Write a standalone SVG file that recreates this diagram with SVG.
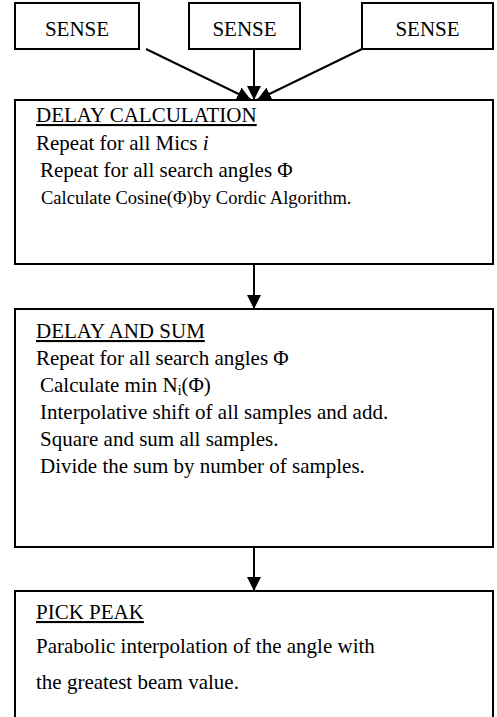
<svg xmlns="http://www.w3.org/2000/svg" width="497" height="717" viewBox="0 0 497 717">
  <defs>
    <marker id="arrow" viewBox="0 0 10 10" refX="10" refY="5" markerWidth="7" markerHeight="7" markerUnits="strokeWidth" orient="auto">
      <path d="M0,0 L10,5 L0,10 Z" fill="#000"/>
    </marker>
  </defs>
  <style>
    .box { fill: #fff; stroke: #000; stroke-width: 2; }
    .t { font-family: "Liberation Serif", "Times New Roman", serif; font-size: 21px; fill: #000; }
    .sm { font-size: 18.5px; }
    .sub { font-size: 14px; }
    .c { text-anchor: middle; }
    .u { text-decoration: underline; }
    .edge { stroke: #000; stroke-width: 2; fill: none; marker-end: url(#arrow); }
  </style>
  <rect width="497" height="717" fill="#fff"/>

  <g id="sense1">
    <rect class="box" x="15" y="3" width="124" height="46"/>
    <text class="t c" x="77" y="36">SENSE</text>
  </g>
  <g id="sense2">
    <rect class="box" x="189" y="3" width="111" height="46"/>
    <text class="t c" x="244.5" y="36">SENSE</text>
  </g>
  <g id="sense3">
    <rect class="box" x="362" y="3" width="131" height="46"/>
    <text class="t c" x="427.5" y="36">SENSE</text>
  </g>

  <g id="delay-calculation">
    <rect class="box" x="15" y="100" width="478" height="164"/>
    <text class="t u" x="36" y="122">DELAY CALCULATION</text>
    <text class="t" x="36" y="150">Repeat for all Mics <tspan font-style="italic">i</tspan></text>
    <text class="t" x="40" y="177">Repeat for all search angles Φ</text>
    <text class="t sm" x="41" y="204">Calculate Cosine(Φ)by Cordic Algorithm.</text>
  </g>

  <g id="delay-and-sum">
    <rect class="box" x="15" y="309" width="478" height="238"/>
    <text class="t u" x="36" y="338">DELAY AND SUM</text>
    <text class="t" x="36" y="365">Repeat for all search angles Φ</text>
    <text class="t" x="40" y="392">Calculate min N<tspan class="sub" dy="3">i</tspan><tspan dy="-3">(Φ)</tspan></text>
    <text class="t" x="40" y="419">Interpolative shift of all samples and add.</text>
    <text class="t" x="40" y="446">Square and sum all samples.</text>
    <text class="t" x="40" y="473">Divide the sum by number of samples.</text>
  </g>

  <g id="pick-peak">
    <rect class="box" x="15" y="591" width="478" height="140"/>
    <text class="t u" x="36" y="619">PICK PEAK</text>
    <text class="t" x="36" y="653">Parabolic interpolation of the angle with</text>
    <text class="t" x="36" y="689">the greatest beam value.</text>
  </g>

  <g id="connectors">
    <line class="edge" x1="146" y1="49" x2="251" y2="100"/>
    <line class="edge" x1="254" y1="49" x2="254" y2="100"/>
    <line class="edge" x1="362" y1="49" x2="257" y2="100"/>
    <line class="edge" x1="254" y1="264" x2="254" y2="309"/>
    <line class="edge" x1="254" y1="547" x2="254" y2="591"/>
  </g>
</svg>
